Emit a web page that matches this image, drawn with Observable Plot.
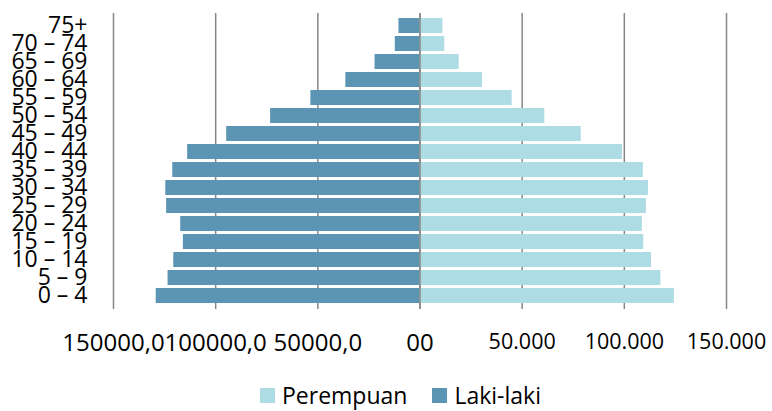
<!DOCTYPE html>
<html>
<head>
<meta charset="utf-8">
<script src="https://cdn.jsdelivr.net/npm/d3@7"></script>
<script src="https://cdn.jsdelivr.net/npm/@observablehq/plot@0.6"></script>
<style>
  html, body { margin: 0; padding: 0; background: white; }
  #chart { position: relative; width: 772px; height: 411px; overflow: hidden; font-family: "Open Sans", sans-serif; }
  #legend { position: absolute; left: 260px; top: 380px; width: 420px; font-family: "Open Sans", sans-serif; font-size: 23px; line-height: 1.3; white-space: nowrap; overflow: visible; }
  #legend .lg-swatches, #legend .lg-swatches-wrap { min-height: 32px !important; margin: 0 !important; font-family: "Open Sans", sans-serif !important; font-size: 23px !important; color: #000 !important; overflow: visible !important; flex-wrap: nowrap !important; }
  #legend .lg-swatch { margin-right: 25px !important; font-size: 23px !important; overflow: visible !important; flex-shrink: 0 !important; }
  #legend .lg-swatch > svg { margin-right: 7px !important; }
</style>
</head>
<body>
<div id="chart"></div>
<script>
// Age groups, bottom to top
const ageGroups = ["0 – 4", "5 – 9", "10 – 14", "15 – 19", "20 – 24", "25 – 29", "30 – 34", "35 – 39",
  "40 – 44", "45 – 49", "50 – 54", "55 – 59", "60 – 64", "65 – 69", "70 – 74", "75+"];
// Laki-laki (male) population per age group
const male = [129100, 123300, 120500, 115800, 117100, 124000, 124400, 121000,
  113700, 94600, 73100, 53400, 36300, 22000, 12100, 10300];
// Perempuan (female) population per age group
const female = [124500, 117900, 113300, 109500, 108800, 110800, 111800, 109300,
  99100, 78900, 61100, 45100, 30600, 19200, 12100, 11200];

const seriesNames = ["Perempuan", "Laki-laki"];
const seriesColors = ["#aedce4", "#5b95b3"];

const xLeftTicks = [-150000, -100000, -50000, 0];
const xLeftLabels = ["150000,0", "100000,0", "50000,0", "00"];
const xRightTicks = [50000, 100000, 150000];
const xRightLabels = ["50.000", "100.000", "150.000"];
const gridTicks = [-150000, -100000, -50000, 0, 50000, 100000, 150000];

const rows = ageGroups.map((age, i) => ({age, male: male[i], female: female[i]}));
const gridColor = "#878787";

const chart = Plot.plot({
  width: 772,
  height: 370,
  marginLeft: 113,
  marginRight: 46,
  marginTop: 13,
  marginBottom: 61,
  style: {fontFamily: "'Open Sans', sans-serif", color: "#000", background: "white", overflow: "visible"},
  x: {domain: [-150000, 150000]},
  y: {domain: ageGroups.slice().reverse(), paddingInner: 0.16, paddingOuter: 0.08},
  marks: [
    Plot.gridX(gridTicks, {stroke: gridColor, strokeOpacity: 1, strokeWidth: 1.5}),
    Plot.barX(rows, {y: "age", x1: 0, x2: d => -d.male, fill: seriesColors[1]}),
    Plot.barX(rows, {y: "age", x1: 0, x2: "female", fill: seriesColors[0]}),
    Plot.ruleX([0], {stroke: gridColor, strokeWidth: 1.5}),
    Plot.axisY({tickSize: 0, tickPadding: 26, fontSize: 23, label: null}),
    Plot.axisX(xLeftTicks, {tickSize: 0, tickPadding: 24, fontSize: 24, label: null,
      tickFormat: d => xLeftLabels[xLeftTicks.indexOf(d)]}),
    Plot.axisX(xRightTicks, {tickSize: 0, tickPadding: 24, fontSize: 21.5, label: null,
      tickFormat: d => xRightLabels[xRightTicks.indexOf(d)]})
  ]
});

const container = document.getElementById("chart");
container.appendChild(chart);

const legend = Plot.legend({
  legend: "swatches",
  className: "lg",
  swatchSize: 15,
  style: {fontFamily: "'Open Sans', sans-serif", fontSize: "23px"},
  color: {domain: seriesNames, range: seriesColors}
});
const legendWrap = document.createElement("div");
legendWrap.id = "legend";
legendWrap.appendChild(legend);
container.appendChild(legendWrap);
</script>
</body>
</html>
